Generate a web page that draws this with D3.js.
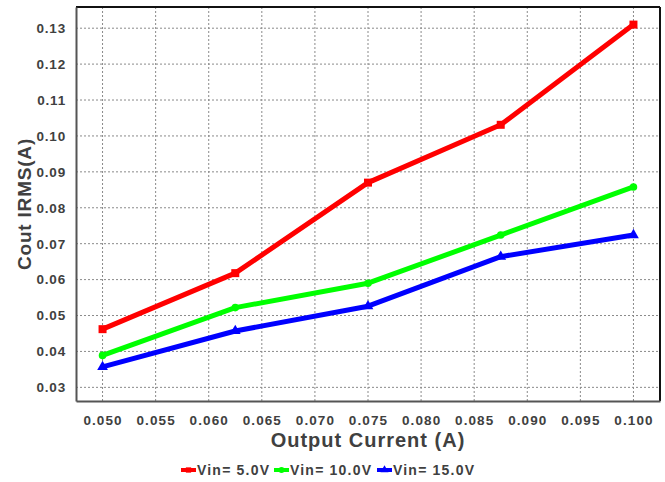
<!DOCTYPE html>
<html>
<head>
<meta charset="utf-8">
<script src="https://cdn.jsdelivr.net/npm/d3@7"></script>
<style>
  body { margin: 0; background: #fff; }
  svg { display: block; font-family: "Liberation Sans", Arial, sans-serif; }
  .tick text { font-weight: bold; fill: #404040; }
</style>
</head>
<body>
<svg id="chart" width="665" height="482"></svg>
<script>
// Data
const currents = [0.05, 0.0625, 0.075, 0.0875, 0.1];
const vin5 = [0.0462, 0.0618, 0.0870, 0.1031, 0.1310];
const vin10 = [0.0389, 0.0522, 0.0590, 0.0724, 0.0858];
const vin15 = [0.0357, 0.0457, 0.0526, 0.0664, 0.0724];
const seriesNames = ['Vin= 5.0V', 'Vin= 10.0V', 'Vin= 15.0V'];
const xTicks = [0.05, 0.055, 0.06, 0.065, 0.07, 0.075, 0.08, 0.085, 0.09, 0.095, 0.1];
const yTicks = [0.03, 0.04, 0.05, 0.06, 0.07, 0.08, 0.09, 0.10, 0.11, 0.12, 0.13];

const series = [
    { name: seriesNames[0], values: vin5, color: '#ff0000', symbol: d3.symbolSquare, size: 64 },
    { name: seriesNames[1], values: vin10, color: '#00ff00', symbol: d3.symbolCircle, size: 45 },
    { name: seriesNames[2], values: vin15, color: '#0000ff', symbol: d3.symbolTriangle, size: 50 }
];

const svg = d3.select('#chart');
const margin = { top: 7, right: 5, bottom: 81, left: 76 };
const width = 665 - margin.left - margin.right;
const height = 482 - margin.top - margin.bottom;

const g = svg.append('g')
    .attr('transform', `translate(${margin.left},${margin.top})`);

// Scales
const x = d3.scaleLinear().domain([0.0475, 0.1025]).range([0, width]);
const y = d3.scaleLinear().domain([0.0262, 0.1359]).range([height, 0]);

// Grid
g.append('g').attr('class', 'grid')
    .selectAll('line.v')
    .data(xTicks)
    .join('line')
    .attr('x1', d => x(d)).attr('x2', d => x(d))
    .attr('y1', 0).attr('y2', height)
    .attr('stroke', '#8a8a8a').attr('stroke-dasharray', '2,2');

g.append('g').attr('class', 'grid')
    .selectAll('line.h')
    .data(yTicks)
    .join('line')
    .attr('x1', 0).attr('x2', width)
    .attr('y1', d => y(d)).attr('y2', d => y(d))
    .attr('stroke', '#8a8a8a').attr('stroke-dasharray', '2,2');

// Frame: top/right black, left/bottom grey axes
g.append('line').attr('x1', 0).attr('x2', width).attr('y1', 0).attr('y2', 0)
    .attr('stroke', '#111').attr('stroke-width', 2);
g.append('line').attr('x1', width).attr('x2', width).attr('y1', 0).attr('y2', height)
    .attr('stroke', '#111').attr('stroke-width', 2);

// Axes
const xAxis = d3.axisBottom(x).tickValues(xTicks).tickFormat(d3.format('.3f')).tickSize(0).tickPadding(10);
const yAxis = d3.axisLeft(y).tickValues(yTicks).tickFormat(d3.format('.2f')).tickSize(0).tickPadding(10);

const xAxisGroup = g.append('g')
    .attr('transform', `translate(0,${height})`)
    .call(xAxis);
xAxisGroup.select('.domain').attr('stroke', '#555').attr('stroke-width', 2);
xAxisGroup.selectAll('text').style('font-size', '13.5px').style('letter-spacing', '1.1px')
    .attr('dy', '1.05em');

const yAxisGroup = g.append('g').call(yAxis);
yAxisGroup.select('.domain').attr('stroke', '#555').attr('stroke-width', 2);
yAxisGroup.selectAll('text').style('font-size', '13.5px').style('letter-spacing', '0.8px');

// Axis titles
svg.append('text')
    .attr('x', margin.left + width / 2)
    .attr('y', 447)
    .attr('text-anchor', 'middle')
    .attr('fill', '#404040')
    .style('font-size', '20px')
    .style('font-weight', 'bold')
    .style('letter-spacing', '1px')
    .text('Output Current (A)');

svg.append('text')
    .attr('transform', `translate(31,${margin.top + height / 2}) rotate(-90)`)
    .attr('text-anchor', 'middle')
    .attr('fill', '#404040')
    .style('font-size', '19px')
    .style('font-weight', 'bold')
    .style('letter-spacing', '0.8px')
    .text('Cout IRMS(A)');

// Lines
const line = d3.line()
    .x((d, i) => x(currents[i]))
    .y(d => y(d));

const seriesGroup = g.append('g').attr('class', 'series');

series.forEach(s => {
    seriesGroup.append('path')
        .datum(s.values)
        .attr('d', line)
        .attr('fill', 'none')
        .attr('stroke', s.color)
        .attr('stroke-width', 5)
        .attr('stroke-linejoin', 'round');

    seriesGroup.selectAll(null)
        .data(s.values)
        .join('path')
        .attr('transform', (d, i) => `translate(${x(currents[i])},${y(d)})`)
        .attr('d', d3.symbol().type(s.symbol).size(s.size))
        .attr('fill', s.color);
});

// Legend
const legend = svg.append('g').attr('class', 'legend');
const legendX = [181, 274, 377];
series.forEach((s, i) => {
    const lg = legend.append('g').attr('transform', `translate(${legendX[i]},470)`);
    lg.append('line')
        .attr('x1', 0).attr('x2', 15)
        .attr('stroke', s.color).attr('stroke-width', 4);
    lg.append('path')
        .attr('transform', 'translate(7.5,0)')
        .attr('d', d3.symbol().type(s.symbol).size(28))
        .attr('fill', s.color);
    lg.append('text')
        .attr('x', 16)
        .attr('y', 5)
        .attr('fill', '#404040')
        .style('font-size', '14px')
        .style('font-weight', 'bold')
        .style('letter-spacing', '1.2px')
        .text(s.name);
});
</script>
</body>
</html>
